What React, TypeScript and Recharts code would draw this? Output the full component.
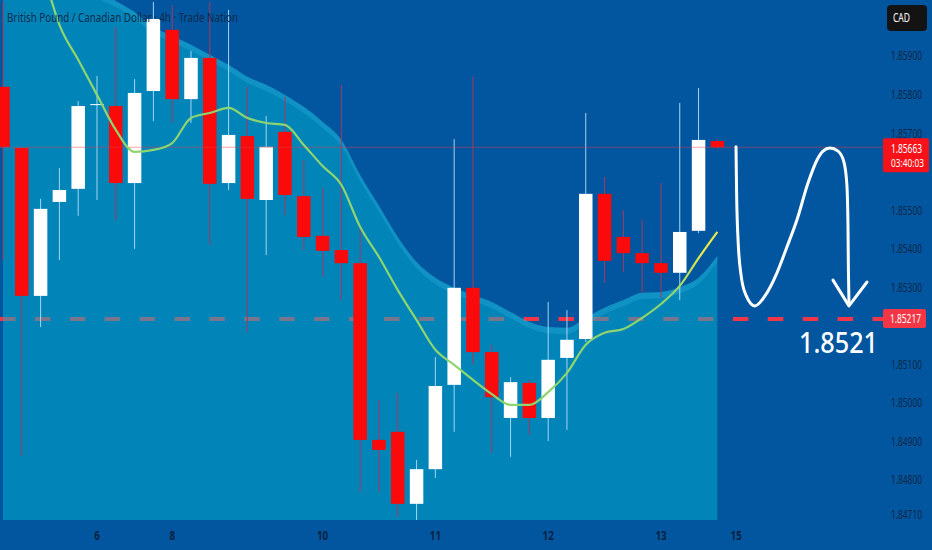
import React from 'react';
import { ComposedChart, Bar, Line, Area, XAxis, YAxis, ReferenceLine } from 'recharts';

// ---------- data ----------
const OPEN = [1.8582, 1.85661, 1.85277, 1.85521, 1.85555, 1.85773, 1.8577, 1.8557, 1.85809, 1.85968, 1.85788, 1.85895, 1.8557, 1.85692, 1.85526, 1.85703, 1.85536, 1.85433, 1.85396, 1.85362, 1.84903, 1.84924, 1.84737, 1.84827, 1.85046, 1.85298, 1.85131, 1.8496, 1.85051, 1.8496, 1.85116, 1.85165, 1.85542, 1.8543, 1.85388, 1.85362, 1.85337, 1.85446, 1.85679];
const HIGH = [1.8604, 1.85661, 1.85529, 1.85609, 1.85783, 1.85848, 1.85975, 1.8584, 1.8604, 1.86032, 1.85913, 1.8604, 1.8602, 1.8582, 1.85744, 1.85794, 1.8563, 1.85557, 1.85825, 1.85456, 1.85007, 1.85025, 1.84851, 1.85118, 1.85684, 1.85846, 1.8515, 1.85066, 1.85059, 1.85261, 1.8524, 1.85752, 1.85586, 1.855, 1.85474, 1.8557, 1.85778, 1.85817, 1.85684];
const LOW = [1.8537, 1.84861, 1.85196, 1.8537, 1.85485, 1.85526, 1.85474, 1.85399, 1.85731, 1.85726, 1.85726, 1.85409, 1.85552, 1.85183, 1.85383, 1.85487, 1.85396, 1.85326, 1.85266, 1.84768, 1.84768, 1.84703, 1.84695, 1.84804, 1.84924, 1.85098, 1.84869, 1.84859, 1.84916, 1.849, 1.84929, 1.85157, 1.85311, 1.85339, 1.85285, 1.85272, 1.85266, 1.8544, 1.85659];
const CLOSE = [1.85664, 1.85277, 1.85503, 1.85552, 1.8577, 1.85775, 1.8557, 1.85804, 1.85996, 1.85788, 1.85895, 1.85568, 1.85695, 1.85529, 1.85664, 1.85539, 1.8543, 1.85394, 1.85362, 1.84903, 1.84877, 1.84737, 1.84827, 1.85043, 1.85298, 1.85131, 1.85014, 1.85053, 1.8496, 1.85111, 1.85163, 1.85542, 1.85368, 1.85388, 1.85362, 1.85337, 1.85443, 1.85682, 1.85663];
const MA = [null, 1.86305, 1.86142, 1.85981, 1.8589, 1.85799, 1.85708, 1.85651, 1.85656, 1.85674, 1.85739, 1.85752, 1.85765, 1.85739, 1.85726, 1.85721, 1.85669, 1.85614, 1.85565, 1.85456, 1.85378, 1.85292, 1.85214, 1.85137, 1.85098, 1.85059, 1.85022, 1.84994, 1.84994, 1.85027, 1.85077, 1.8515, 1.85181, 1.85191, 1.8522, 1.85256, 1.85303, 1.85375, 1.85443];
const UPPER = [1.86201, 1.86175, 1.86149, 1.86123, 1.86097, 1.86066, 1.86043, 1.86014, 1.85975, 1.85952, 1.85929, 1.85903, 1.85877, 1.85846, 1.85825, 1.85799, 1.85768, 1.85729, 1.85682, 1.85591, 1.85511, 1.8543, 1.85365, 1.85324, 1.85298, 1.85279, 1.85261, 1.85235, 1.85209, 1.85196, 1.85194, 1.8522, 1.85246, 1.85266, 1.85285, 1.85287, 1.853, 1.85324, 1.85381];
const STRIP_WIDTH = 0.00016;

const X_TICKS = [5, 9, 17, 23, 29, 35, 39];
const X_TICK_LABELS = ['6', '8', '10', '11', '12', '13', '15'];
const Y_TICKS = [1.8471, 1.848, 1.849, 1.85, 1.851, 1.853, 1.854, 1.855, 1.857, 1.858, 1.859];

const LAST_PRICE = 1.85663;
const LAST_TIMER = '03:40:03';
const TARGET_PRICE = 1.85217;
const TARGET_TEXT = '1.8521';

// projected path (candle index, price)
const PATH_X = [38.99, 39.02, 39.1, 39.26, 39.52, 40.0, 40.53, 41.17, 41.7, 42.23, 42.82, 43.3, 43.62, 43.99, 44.42, 44.73, 44.89, 44.95, 44.97, 45.0];
const PATH_Y = [1.85664, 1.85552, 1.85422, 1.85331, 1.85279, 1.85251, 1.85277, 1.85337, 1.85404, 1.85474, 1.8557, 1.8563, 1.85653, 1.85661, 1.85653, 1.85625, 1.85565, 1.85448, 1.85344, 1.85259];
const HEAD_X = [44.15, 45.0, 45.96];
const HEAD_Y = [1.85318, 1.85251, 1.85313];

const X_DOMAIN: [number, number] = [-0.16, 46.81];
const Y_DOMAIN: [number, number] = [1.84695, 1.860454];

// ---------- derived tables ----------
const candles = OPEN.map((o, i) => ({
  i,
  open: o,
  high: HIGH[i],
  low: LOW[i],
  close: CLOSE[i],
  range: [LOW[i], HIGH[i]],
  ma: MA[i],
  upper: UPPER[i],
  strip: [UPPER[i] - STRIP_WIDTH, UPPER[i]],
}));
const targetLine = [{ i: X_DOMAIN[0], v: TARGET_PRICE }, { i: X_DOMAIN[1], v: TARGET_PRICE }];
const pathData = PATH_X.map((x, k) => ({ i: x, v: PATH_Y[k] }));
const headData = HEAD_X.map((x, k) => ({ i: x, v: HEAD_Y[k] }));

const FONT = "'Noto Sans', 'DejaVu Sans', sans-serif";
const BG = '#02569F';
const BODY_W = 13.5;

const Candle = (props: any) => {
  let { x, y, width, height, payload } = props;
  if (height < 0) { y = y + height; height = -height; }
  const { open, close, high, low } = payload;
  const up = close >= open;
  const span = high - low;
  const k = span > 0 ? height / span : 0;
  const yO = y + (high - open) * k;
  const yC = y + (high - close) * k;
  const top = Math.min(yO, yC);
  const bot = Math.max(yO, yC);
  const cx = x + (width || 0) / 2;
  return (
    <g>
      <line x1={cx} x2={cx} y1={y} y2={y + height} stroke={up ? '#A5D4F2' : '#A8385F'} strokeWidth={1} />
      <rect x={cx - BODY_W / 2} y={top} width={BODY_W} height={Math.max(1, bot - top)} fill={up ? '#FFFFFF' : '#FA0A0A'} />
    </g>
  );
};

const YTick = (p: any) => (
  <text x={p.x + 23.5} y={p.y + 4.5} textAnchor="middle" fontSize={13} fill="#0E2747" fontFamily={FONT}
    textLength={31} lengthAdjust="spacingAndGlyphs">
    {Number(p.payload.value).toFixed(5)}
  </text>
);

const XTick = (p: any) => {
  const k = X_TICKS.indexOf(p.payload.value);
  const label = k >= 0 ? X_TICK_LABELS[k] : '';
  return (
    <text x={p.x} y={p.y + 20} textAnchor="middle" fontSize={11.5} fontWeight="bold" fill="#0B2240" fontFamily={FONT}
      textLength={label.length * 5.6} lengthAdjust="spacingAndGlyphs">
      {label}
    </text>
  );
};

const LastPriceLabel = (props: any) => {
  const vb = props.viewBox;
  const x = vb.x + vb.width;
  const y = vb.y;
  return (
    <g>
      <rect x={x} y={y - 9} width={46} height={34} rx={2} fill="#F7121A" />
      <text x={x + 8} y={y + 5.5} fontSize={13} fill="#FFFFFF" fontFamily={FONT} textLength={31} lengthAdjust="spacingAndGlyphs">
        {LAST_PRICE.toFixed(5)}
      </text>
      <text x={x + 8} y={y + 20} fontSize={11} fill="#FFFFFF" fontFamily={FONT} textLength={33} lengthAdjust="spacingAndGlyphs">
        {LAST_TIMER}
      </text>
    </g>
  );
};

const TargetLabel = (props: any) => {
  const vb = props.viewBox;
  const x = vb.x + vb.width;
  const y = vb.y;
  return (
    <g>
      <rect x={x} y={y - 10} width={43} height={19} rx={2} fill="#F23645" />
      <text x={x + 7} y={y + 4.5} fontSize={13} fill="#FFFFFF" fontFamily={FONT} textLength={31} lengthAdjust="spacingAndGlyphs">
        {TARGET_PRICE.toFixed(5)}
      </text>
      <text x={x - 44.5} y={y + 34} textAnchor="middle" fontSize={29} fontWeight={500} fill="#FFFFFF" fontFamily={FONT}
        textLength={79} lengthAdjust="spacingAndGlyphs">
        {TARGET_TEXT}
      </text>
    </g>
  );
};

export default function App() {
  return (
    <div style={{ position: 'absolute', left: 0, top: 0, width: 932, height: 550, background: BG, overflow: 'hidden' }}>
      <ComposedChart width={932} height={550} data={candles} margin={{ top: 0, right: 0, bottom: 0, left: 0 }}>
        <XAxis dataKey="i" type="number" domain={X_DOMAIN} allowDataOverflow ticks={X_TICKS} interval={0}
          axisLine={false} tickLine={false} tickSize={0} tickMargin={0} height={30} tick={<XTick />} />
        <YAxis type="number" orientation="right" domain={Y_DOMAIN} allowDataOverflow ticks={Y_TICKS} interval={0}
          axisLine={false} tickLine={false} tickSize={0} tickMargin={0} width={49} tick={<YTick />} />

        <Line data={targetLine} dataKey="v" type="linear" stroke="#F23645" strokeWidth={4}
          strokeDasharray="15.5 19.4" dot={false} activeDot={false} isAnimationActive={false} zIndex={50} />

        <Area dataKey="upper" type="monotone" baseValue="dataMin" fill="#00B4D4" fillOpacity={0.5} stroke="none"
          isAnimationActive={false} dot={false} activeDot={false} />
        <Area dataKey="strip" type="monotone" fill="#52C8EE" fillOpacity={0.2} stroke="none"
          isAnimationActive={false} dot={false} activeDot={false} />

        <ReferenceLine y={LAST_PRICE} stroke="#F23645" strokeOpacity={0.45} strokeWidth={1} label={LastPriceLabel} />
        <ReferenceLine y={TARGET_PRICE} stroke="none" label={TargetLabel} />

        <Bar dataKey="range" barSize={14} shape={Candle} isAnimationActive={false} />

        <Line dataKey="ma" type="monotone" stroke="url(#maGrad)" strokeWidth={2.2} dot={false} activeDot={false}
          isAnimationActive={false} />

        <Line data={pathData} dataKey="v" type="monotone" stroke="#FFFFFF" strokeWidth={3} dot={false}
          activeDot={false} isAnimationActive={false} strokeLinecap="round" />
        <Line data={headData} dataKey="v" type="linear" stroke="#FFFFFF" strokeWidth={3} dot={false}
          activeDot={false} isAnimationActive={false} strokeLinecap="round" strokeLinejoin="round" />
      </ComposedChart>

      <svg width={932} height={550} style={{ position: 'absolute', left: 0, top: 0, pointerEvents: 'none' }}>
        <defs>
          <linearGradient id="maGrad" gradientUnits="userSpaceOnUse" x1={672} y1={0} x2={702} y2={0}>
            <stop offset="0" stopColor="#8DD56E" />
            <stop offset="1" stopColor="#E8E84A" />
          </linearGradient>
        </defs>
        <text x={7} y={22} fontSize={12.5} fill="#0F2A4C" fontFamily={FONT} textLength={231} lengthAdjust="spacingAndGlyphs">
          British Pound / Canadian Dollar · 4h · Trade Nation
        </text>
        <rect x={887} y={5} width={40} height={26} rx={4} fill="#131313" />
        <text x={893} y={22} fontSize={12} fill="#FFFFFF" fontFamily={FONT} textLength={17} lengthAdjust="spacingAndGlyphs">
          CAD
        </text>
      </svg>
    </div>
  );
}
